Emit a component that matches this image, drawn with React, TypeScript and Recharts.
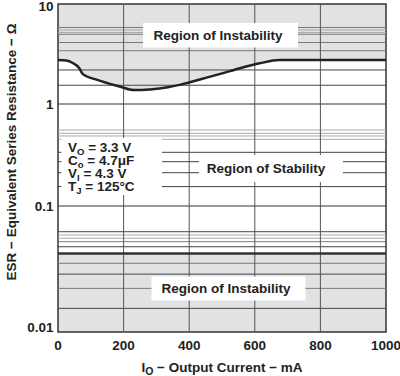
import React from 'react';
import { ComposedChart, Area, Line, XAxis, YAxis, ReferenceLine, ReferenceArea } from 'recharts';

// Output current (mA) and the ESR boundary of the upper instability region (ohm)
const currentMA = [0, 25, 45, 65, 75, 120, 190, 230, 280, 335, 380, 435, 495, 555, 615, 675, 1000];
const esrUpperLimit = [2.75, 2.72, 2.57, 2.28, 2.0, 1.74, 1.49, 1.38, 1.4, 1.47, 1.58, 1.77, 2.0, 2.28, 2.55, 2.75, 2.75];
// lower stability limit (ohm)
const esrLowerLimit = 0.042;

const xTicks = [0, 200, 400, 600, 800, 1000];
const xGridValues = [200, 400, 600, 800];
const yTickValues = [0.01, 0.1, 1, 10];
const yTickLabels = ['0.01', '0.1', '1', '10'];
const yDecadeGrid = [0.1, 1];

// minor horizontal grid lines as drawn in the chart
const gridDark = [1.54, 2.19, 0.336, 0.272, 0.212, 0.155, 0.0625, 0.0475, 0.0288, 0.0154];
const gridMid = [3.41, 4.12, 4.98, 5.82, 0.0521, 0.0351, 0.0222];
const gridLight = [5.19, 5.5, 0.556, 0.516, 0.486, 0.451, 0.0589, 0.0555];

// the printed log axis has uneven decades (0.01-0.1, 0.1-1, 1-10)
const decadeSpans = [126, 102, 100];
const axisMax = decadeSpans.reduce((a, b) => a + b, 0);
function toAxis(v: number): number {
  const L = Math.log10(v) + 2;
  let i = Math.floor(L);
  if (i < 0) i = 0;
  if (i > decadeSpans.length - 1) i = decadeSpans.length - 1;
  let s = 0;
  for (let k = 0; k < i; k++) s += decadeSpans[k];
  return s + (L - i) * decadeSpans[i];
}

const data = currentMA.map((x, i) => ({
  x,
  upper: [toAxis(esrUpperLimit[i]), axisMax],
  curve: toAxis(esrUpperLimit[i]),
}));

const FONT = '"Liberation Sans", Arial, Helvetica, sans-serif';
const SHADE = '#e1e2e4';
const INK = '#222';

const YTick = (props: any) => {
  const { y, payload } = props;
  const idx = yTickValues.findIndex((v) => Math.abs(toAxis(v) - payload.value) < 0.01);
  const label = idx >= 0 ? yTickLabels[idx] : '';
  const dy = idx === 0 ? 0 : idx === yTickValues.length - 1 ? 6.5 : 5;
  return (
    <text x={53.5} y={y + dy} textAnchor="end" fontFamily={FONT} fontWeight="bold" fontSize={13.5} fill={INK}>
      {label}
    </text>
  );
};

const XTick = (props: any) => {
  const { x, payload } = props;
  return (
    <text x={x} y={350} textAnchor="middle" fontFamily={FONT} fontWeight="bold" fontSize={13.5} fill={INK}>
      {payload.value}
    </text>
  );
};

export default function App() {
  return (
    <div style={{ position: 'absolute', left: 0, top: 0, width: 400, height: 376, background: '#fff' }}>
      <ComposedChart
        width={400}
        height={376}
        data={data}
        margin={{ top: 4, right: 14, left: 0, bottom: 0 }}
      >
        <XAxis
          dataKey="x"
          type="number"
          domain={[0, 1000]}
          ticks={xTicks}
          axisLine={false}
          tickLine={false}
          height={44}
          tick={<XTick />}
          interval={0}
        />
        <YAxis
          type="number"
          domain={[0, axisMax]}
          ticks={yTickValues.map(toAxis)}
          axisLine={false}
          tickLine={false}
          width={58}
          tick={<YTick />}
          interval={0}
        />
        <Area
          dataKey="upper"
          type="linear"
          fill={SHADE}
          fillOpacity={1}
          stroke="none"
          isAnimationActive={false}
        />
        <ReferenceArea y1={0} y2={toAxis(esrLowerLimit)} x1={0} x2={1000} fill={SHADE} fillOpacity={1} stroke="none" />
        {gridLight.map((v) => (
          <ReferenceLine key={'l' + v} y={toAxis(v)} stroke="#a8a8a8" strokeWidth={1} />
        ))}
        {gridMid.map((v) => (
          <ReferenceLine key={'m' + v} y={toAxis(v)} stroke="#7a7a7a" strokeWidth={1} />
        ))}
        {gridDark.map((v) => (
          <ReferenceLine key={'d' + v} y={toAxis(v)} stroke="#444" strokeWidth={1} />
        ))}
        {yDecadeGrid.map((v) => (
          <ReferenceLine key={'g' + v} y={toAxis(v)} stroke="#333" strokeWidth={1} />
        ))}
        {xGridValues.map((v) => (
          <ReferenceLine key={'x' + v} x={v} stroke="#555" strokeWidth={1} />
        ))}
        <ReferenceLine y={toAxis(esrLowerLimit)} stroke="#333" strokeWidth={2.5} />
        <Line
          dataKey="curve"
          type="monotone"
          stroke="#222"
          strokeWidth={2.5}
          dot={false}
          isAnimationActive={false}
        />
        <ReferenceArea x1={0} x2={1000} y1={0} y2={axisMax} fill="none" stroke="#333" strokeWidth={1.5} />
      </ComposedChart>
      <svg
        width={400}
        height={376}
        style={{ position: 'absolute', left: 0, top: 0, pointerEvents: 'none' }}
        fontFamily={FONT}
        fontWeight="bold"
        fill={INK}
      >
        <rect x={143} y={23} width={155} height={24.5} fill="#fff" />
        <text x={218} y={40} textAnchor="middle" fontSize={13.5}>Region of Instability</text>
        <rect x={199} y={155} width={144} height={27} fill="#fff" />
        <text x={266} y={173} textAnchor="middle" fontSize={13.5}>Region of Stability</text>
        <rect x={151.5} y={276.5} width={154} height={24} fill="#fff" />
        <text x={226} y={293} textAnchor="middle" fontSize={13.5}>Region of Instability</text>

        <rect x={61.5} y={138} width={100.5} height={57} fill="#fff" />
        <text x={68} y={152} fontSize={13.5}>
          V<tspan fontSize={9.5} dy={2.5}>O</tspan><tspan dy={-2.5}> = 3.3 V</tspan>
        </text>
        <text x={68} y={165} fontSize={13.5}>
          C<tspan fontSize={9.5} dy={2.5}>o</tspan><tspan dy={-2.5}> = 4.7μF</tspan>
        </text>
        <text x={68} y={178} fontSize={13.5}>
          V<tspan fontSize={9.5} dy={2.5}>I</tspan><tspan dy={-2.5}> = 4.3 V</tspan>
        </text>
        <text x={68} y={191} fontSize={13.5}>
          T<tspan fontSize={9.5} dy={2.5}>J</tspan><tspan dy={-2.5}> = 125°C</tspan>
        </text>

        <text x={222} y={372} textAnchor="middle" fontSize={13.5}>
          I<tspan fontSize={10.5} dy={3}>O</tspan><tspan dy={-3}> − Output Current − mA</tspan>
        </text>
        <text
          transform="translate(15.5,152) rotate(-90)"
          x={0}
          y={0}
          textAnchor="middle"
          fontSize={13.5}
        >
          ESR − Equivalent Series Resistance − Ω
        </text>
      </svg>
    </div>
  );
}
